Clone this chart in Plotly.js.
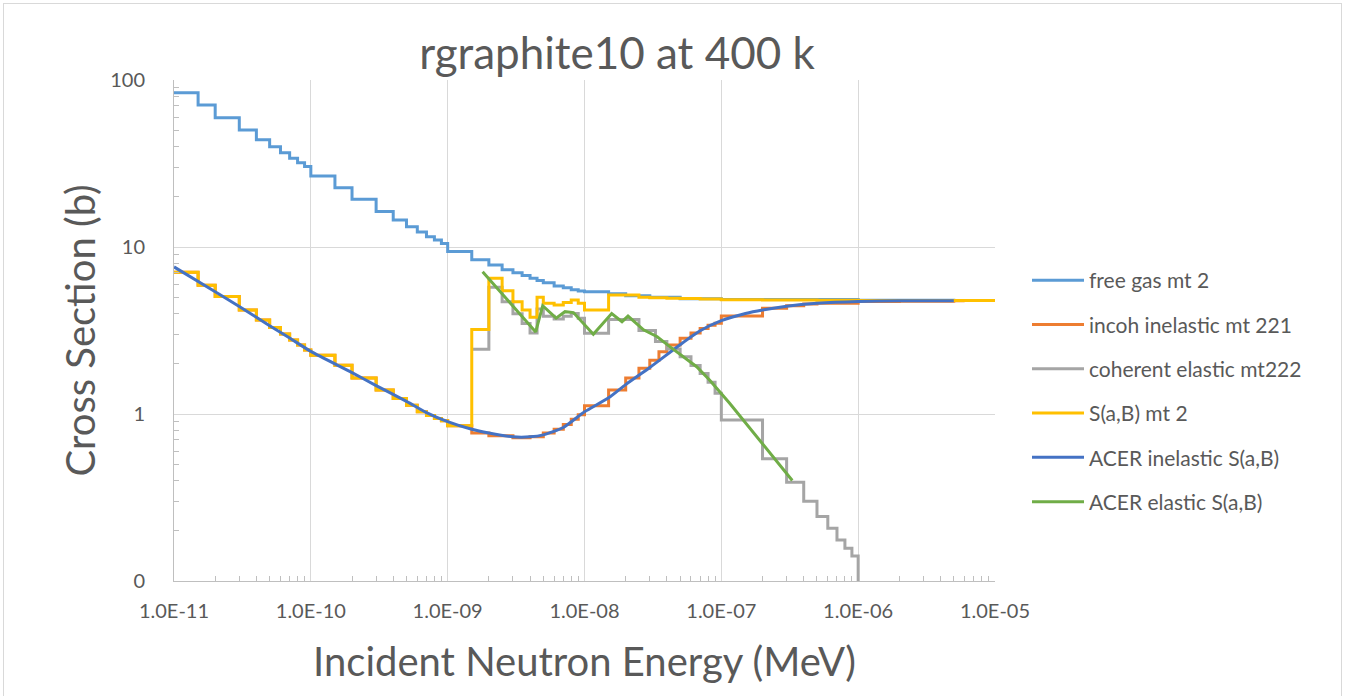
<!DOCTYPE html>
<html><head><meta charset="utf-8">
<script src="https://cdn.plot.ly/plotly-3.0.1.min.js"></script>
<style>
html,body{margin:0;padding:0;background:#fff;overflow:hidden}
#chart{width:1347px;height:696px;position:absolute;left:0;top:0}
#frame{position:absolute;left:3px;top:3px;width:1337px;height:700px;border:1px solid #D9D9D9;pointer-events:none}
</style></head><body>
<div id="chart"></div><div id="frame"></div>
<script>
// ---- data ----
const freeGasE = [1e-11,1.5e-11,2e-11,3e-11,4e-11,5e-11,6e-11,7e-11,8e-11,9e-11,
  1e-10,1.5e-10,2e-10,3e-10,4e-10,5e-10,6e-10,7e-10,8e-10,9e-10,
  1e-9,1.5e-9,2e-9,2.5e-9,3e-9,3.5e-9,4e-9,4.5e-9,5e-9,6e-9,7e-9,8e-9,9e-9,
  1e-8,1.5e-8,2e-8,3e-8,5e-8,1e-7,1e-6,5e-6];
const freeGasXS = [84,70.8,59.4,50.2,43.8,39.9,36.7,34.0,32.0,30.3,
  26.6,22.6,19.3,16.3,14.5,13.2,12.3,11.5,11.0,10.5,
  9.4,8.4,7.8,7.3,7.0,6.75,6.5,6.3,6.1,5.85,5.7,5.55,5.45,
  5.4,5.25,5.1,5.0,4.9,4.85,4.8,4.78];

const incohE = [1e-11,1.5e-11,2e-11,3e-11,4e-11,5e-11,6e-11,7e-11,8e-11,9e-11,
  1e-10,1.5e-10,2e-10,3e-10,4e-10,5e-10,6e-10,7e-10,8e-10,9e-10,1e-9,
  1.5e-9,2e-9,3e-9,4e-9,5e-9,6e-9,7e-9,8e-9,9e-9,
  1e-8,1.5e-8,2e-8,2.5e-8,3e-8,3.5e-8,4e-8,5e-8,6e-8,7e-8,8e-8,9e-8,
  1e-7,2e-7,3e-7,4e-7,5e-7,1e-6,2e-6,5e-6,6e-6];
const incohXS = [7.05,5.9,5.05,4.2,3.66,3.3,3.01,2.77,2.59,2.42,
  2.25,1.96,1.64,1.39,1.24,1.13,1.03,0.98,0.94,0.91,0.85,
  0.77,0.74,0.72,0.73,0.77,0.81,0.865,0.93,0.99,
  1.12,1.39,1.64,1.88,2.1,2.36,2.59,2.84,3.05,3.25,3.4,3.5,
  3.86,4.3,4.45,4.55,4.6,4.72,4.74,4.76,4.76];

const cohE = [1.5e-9,2e-9,2.5e-9,3e-9,3.5e-9,4e-9,4.5e-9,5e-9,6e-9,7e-9,8e-9,9e-9,
  1e-8,1.5e-8,2.5e-8,3.3e-8,4e-8,5e-8,6e-8,7e-8,8e-8,9e-8,
  1e-7,2e-7,3e-7,4e-7,5e-7,6e-7,7e-7,8e-7,9e-7,1e-6];
const cohXS = [2.44,5.75,4.7,3.98,3.48,3.06,4.25,3.85,3.7,3.85,4.0,3.75,
  3.04,3.68,3.16,2.72,2.45,2.2,1.95,1.75,1.55,1.33,
  0.92,0.54,0.39,0.30,0.243,0.207,0.176,0.157,0.141,0.01];

const sabE = [1e-11,1.5e-11,2e-11,3e-11,4e-11,5e-11,6e-11,7e-11,8e-11,9e-11,
  1e-10,1.5e-10,2e-10,3e-10,4e-10,5e-10,6e-10,7e-10,8e-10,9e-10,1e-9,
  1.5e-9,2e-9,2.5e-9,3e-9,3.5e-9,4e-9,4.5e-9,5e-9,6e-9,7e-9,8e-9,9e-9,
  1e-8,1.5e-8,2.5e-8,3e-8,4e-8,5e-8,7e-8,
  1e-7,2e-7,5e-7,1e-6,1e-5];
const sabXS = [7.05,5.9,5.05,4.2,3.66,3.3,3.01,2.77,2.59,2.42,
  2.25,1.96,1.64,1.39,1.24,1.13,1.03,0.98,0.94,0.91,0.85,
  3.21,6.5,5.47,4.7,4.2,3.8,5.0,4.6,4.5,4.65,4.82,4.6,
  4.2,5.16,5.0,4.97,4.94,4.92,4.88,
  4.84,4.82,4.8,4.79,4.78];

const acerInE = [1e-11,2e-11,3e-11,5e-11,7e-11,1e-10,2e-10,3e-10,5e-10,7e-10,
  1e-9,1.5e-9,2e-9,3e-9,4e-9,5e-9,7e-9,1e-8,1.5e-8,2e-8,3e-8,5e-8,7e-8,
  1e-7,1.5e-7,2e-7,3e-7,5e-7,1e-6,2e-6,5e-6];
const acerInXS = [7.6,5.4,4.4,3.38,2.85,2.37,1.77,1.48,1.19,1.02,
  0.9,0.81,0.77,0.73,0.73,0.75,0.83,1.03,1.25,1.5,1.9,2.6,3.15,
  3.62,4.0,4.2,4.42,4.6,4.72,4.76,4.77];

const acerElE = [1.8e-9,4.4e-9,4.95e-9,6.2e-9,7.2e-9,8.3e-9,1.16e-8,1.58e-8,1.88e-8,2.08e-8,
  2.7e-8,3.4e-8,4.2e-8,5.3e-8,6.6e-8,8.2e-8,1.15e-7,3.3e-7];
const acerElXS = [7.1,3.1,4.45,3.75,4.1,4.05,3.0,4.0,3.57,3.86,
  3.19,2.9,2.53,2.2,1.92,1.6,1.16,0.40];

const seriesNames = ['free gas mt 2','incoh inelastic mt 221','coherent elastic mt222',
  'S(a,B) mt 2','ACER inelastic S(a,B)','ACER elastic S(a,B)'];
const seriesColors = ['#5B9BD5','#ED7D31','#A5A5A5','#FFC000','#4472C4','#70AD47'];

const xTickVals = [1e-11,1e-10,1e-9,1e-8,1e-7,1e-6,1e-5];
const xTickText = ['1.0E-11','1.0E-10','1.0E-09','1.0E-08','1.0E-07','1.0E-06','1.0E-05'];
const yTickVals = [0.1,1,10,100];
const yTickText = ['0','1','10','100'];

// minor ticks (2..9 in each decade)
function minorTicks(lo, hi){
  const out=[];
  for(let d=lo; d<hi; d++){ for(let k=2;k<=9;k++){ out.push(k*Math.pow(10,d)); } }
  return out;
}

const xs=[freeGasE,incohE,cohE,sabE,acerInE,acerElE];
const ys=[freeGasXS,incohXS,cohXS,sabXS,acerInXS,acerElXS];
const shapes=['hv','hv','hv','hv','spline','linear'];
const traces = xs.map((x,i)=>({
  type:'scatter', mode:'lines', x:x, y:ys[i], name:seriesNames[i],
  legendgroup:'g'+i,
  line:{color:seriesColors[i], width:3, shape:shapes[i], smoothing:0.6}
}));

const layout = {
  width:1347, height:696,
  margin:{l:174, r:352, t:80, b:115},
  paper_bgcolor:'#ffffff', plot_bgcolor:'#ffffff',
  font:{family:'Lato, "Open Sans", sans-serif', color:'#595959'},
  showlegend:true,
  title:{text:'rgraphite10 at 400 k', font:{size:44, color:'#595959'},
    xref:'container', x:617/1347, xanchor:'center', yref:'container', y:1-54/696, yanchor:'middle'},
  xaxis:{type:'log', range:[-11,-5], tickvals:xTickVals, ticktext:xTickText,
    showgrid:true, gridcolor:'#D9D9D9', gridwidth:1, zeroline:false,
    showline:true, linecolor:'#BFBFBF', linewidth:1, ticks:'', tickfont:{size:20, color:'#595959'},
    ticklabelstandoff:12,
    title:{text:'Incident Neutron Energy (MeV)', font:{size:40, color:'#595959'}, standoff:26},
    minor:{tickvals:minorTicks(-11,-5), ticks:'inside', ticklen:5, tickcolor:'#BFBFBF', showgrid:false}},
  yaxis:{type:'log', range:[-1,2], tickvals:yTickVals, ticktext:yTickText,
    showgrid:true, gridcolor:'#D9D9D9', gridwidth:1, zeroline:false,
    showline:true, linecolor:'#BFBFBF', linewidth:1, ticks:'', tickfont:{size:20, color:'#595959'},
    ticklabelstandoff:24,
    title:{text:'Cross Section (b)', font:{size:40, color:'#595959'}, standoff:2},
    minor:{tickvals:minorTicks(-1,2), ticks:'inside', ticklen:5, tickcolor:'#BFBFBF', showgrid:false}},
  legend:{xref:'container', yref:'container', x:1027/1347, y:1-260/696, xanchor:'left', yanchor:'top',
    font:{size:21, color:'#595959'}, itemwidth:52, traceorder:'grouped', tracegroupgap:14,
    bgcolor:'rgba(0,0,0,0)'}
};

Plotly.newPlot('chart', traces, layout, {staticPlot:true, displayModeBar:false});
</script>
</body></html>
